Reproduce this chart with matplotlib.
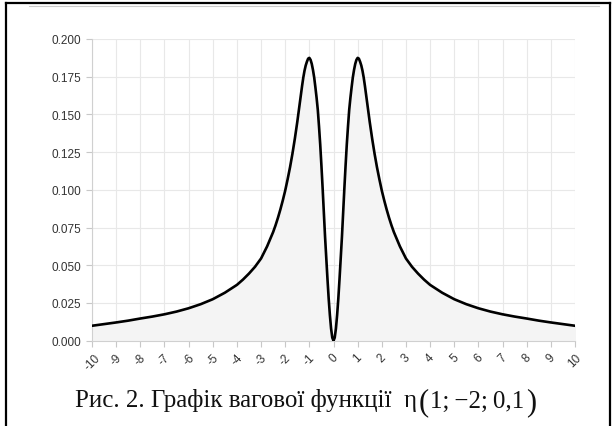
import matplotlib
matplotlib.use('Agg')
import matplotlib.pyplot as plt
from matplotlib.lines import Line2D

plt.rcParams['axes.unicode_minus'] = False

# values (right half, the curve is symmetric)
half_x = [0.0, 0.05, 0.1, 0.15, 0.2, 0.25, 0.3, 0.35, 0.4, 0.45, 0.5, 0.55,
          0.6, 0.65, 0.7, 0.75, 0.8, 0.85, 0.9, 0.95, 1.0, 1.05, 1.1, 1.15,
          1.2, 1.25, 1.3, 1.35, 1.4, 1.45, 1.5, 1.6, 1.7, 1.8, 1.9, 2.0, 2.1,
          2.2, 2.3, 2.4, 2.5, 2.75, 3.0, 3.25, 3.5, 3.75, 4.0, 4.5, 5.0, 5.5,
          6.0, 6.5, 7.0, 7.5, 8.0, 8.5, 9.0, 9.5, 10.0]
half_y = [0.0, 0.002, 0.008, 0.017, 0.028, 0.041, 0.055, 0.069, 0.085, 0.101,
          0.116, 0.130, 0.142, 0.153, 0.161, 0.168, 0.1745, 0.1795, 0.1835,
          0.1862, 0.1875, 0.187, 0.185, 0.1825, 0.179, 0.1745, 0.169, 0.163,
          0.157, 0.151, 0.145, 0.134, 0.124, 0.115, 0.107, 0.0995, 0.093,
          0.087, 0.0815, 0.0765, 0.072, 0.0625, 0.0545, 0.049, 0.0445, 0.0405,
          0.037, 0.0318, 0.0275, 0.0242, 0.0215, 0.0193, 0.0175, 0.016,
          0.0147, 0.0133, 0.0121, 0.011, 0.0099]

x_vals = [-v for v in half_x[:0:-1]] + half_x
y_vals = half_y[:0:-1] + half_y

x_ticks = list(range(-10, 11))
y_ticks = [0.0, 0.025, 0.05, 0.075, 0.1, 0.125, 0.15, 0.175, 0.2]

caption_main = 'Рис. 2. Графік вагової функції  η'
caption_args = '1;\u2009\u22122;\u20090,1'

W, H = 616, 427
fig = plt.figure(figsize=(W / 100, H / 100), dpi=100)
ax = fig.add_axes([92 / W, 1 - 341.7 / H, 483 / W, 301.7 / H])

ax.fill_between(x_vals, y_vals, 0, color='#f4f4f4', zorder=1)
ax.plot(x_vals, y_vals, color='black', linewidth=1.9, zorder=3,
        solid_joinstyle='round')

ax.set_xlim(-10, 10)
ax.set_ylim(0, 0.2)
ax.set_xticks(x_ticks)
ax.set_yticks(y_ticks)
ax.set_yticklabels([f'{v:.3f}' for v in y_ticks])
ax.set_xticklabels([str(v) for v in x_ticks], rotation=45, ha='center')

ax.grid(True, color='#e8e8e8', linewidth=0.8, zorder=0)
ax.set_axisbelow(True)
for side in ['top', 'right']:
    ax.spines[side].set_visible(False)
for side in ['left', 'bottom']:
    ax.spines[side].set_color('#d0d0d0')
    ax.spines[side].set_linewidth(0.8)
ax.tick_params(axis='both', colors='#c8c8c8', length=4, width=0.8,
               labelcolor='#333333', labelsize=8.5)
for lab in ax.get_xticklabels() + ax.get_yticklabels():
    lab.set_family('Liberation Sans')

# caption, drawn in pieces so the brackets can be bigger
renderer = fig.canvas.get_renderer()
x0 = 75
base = 1 - 407.5 / H
pbase = 1 - 410 / H
parts = [(caption_main, 18, base, 2), ('(', 22, pbase, 1),
         (caption_args, 18, base, 2), (')', 22, pbase, 0)]
for txt, size, yb, gap in parts:
    t = fig.text(x0 / W, yb, txt, ha='left', va='baseline', fontsize=size,
                 family='Liberation Serif', color='#111111')
    x0 += t.get_window_extent(renderer).width + gap

# frame around the figure (left, top, right)
tf = fig.transFigure
fig.add_artist(Line2D([6 / W, 6 / W], [0, 1 - 4 / H], color='black',
                      linewidth=1.6, transform=tf))
fig.add_artist(Line2D([6 / W, 610 / W], [1 - 4 / H, 1 - 4 / H],
                      color='black', linewidth=1.6, transform=tf))
fig.add_artist(Line2D([610 / W, 610 / W], [0, 1 - 4 / H], color='black',
                      linewidth=1.6, transform=tf))
fig.add_artist(Line2D([29 / W, 599 / W], [1 - 7 / H, 1 - 7 / H],
                      color='#cccccc', linewidth=0.8, transform=tf))

fig.savefig('out.png', dpi=100)
